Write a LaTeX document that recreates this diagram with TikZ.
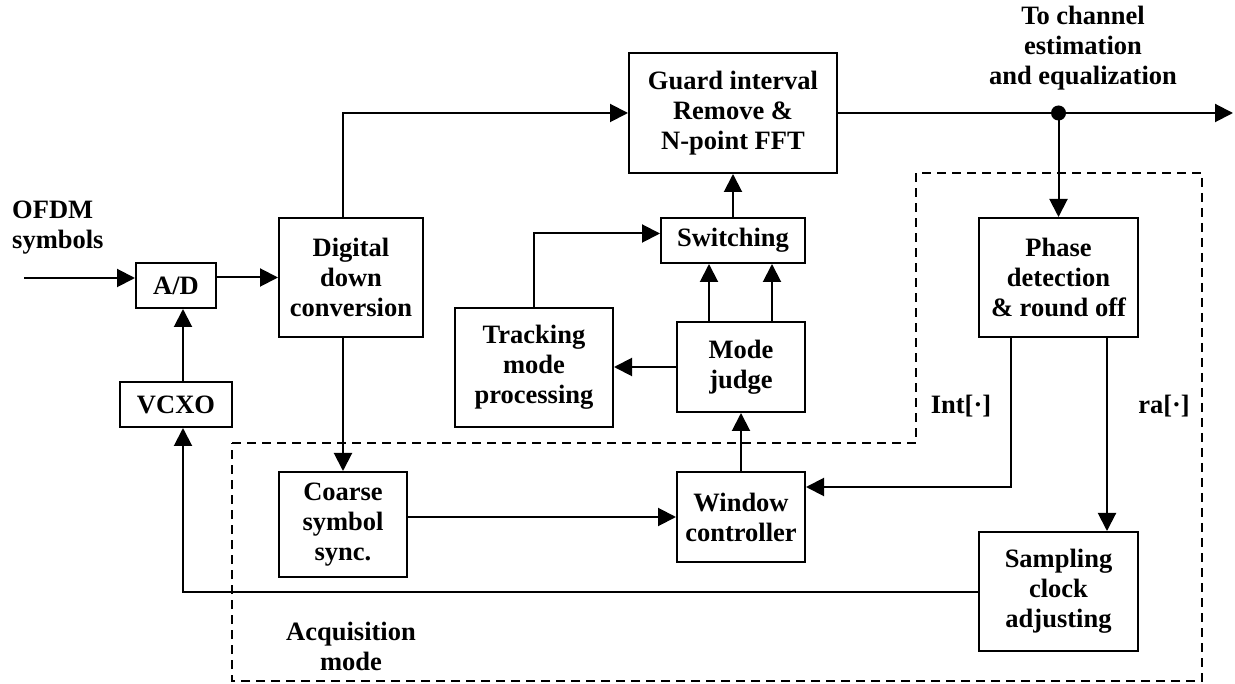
\documentclass[tikz,border=0pt]{standalone}
\usepackage{fontspec}
\setmainfont{Liberation Serif}
\usetikzlibrary{arrows.meta}
\begin{document}
\begin{tikzpicture}[x=1pt,y=-1pt,
  every node/.style={font=\fontsize{26.5}{30}\selectfont\bfseries, align=center, inner sep=0pt},
  blk/.style={draw, line width=2pt},
  conn/.style={line width=2pt},
  arr/.style={line width=2pt, -{Triangle[length=18pt,width=18pt]}},
  dashbox/.style={line width=1.8pt, dash pattern=on 9pt off 6pt}
]
\useasboundingbox (0,0) rectangle (1235,684);

% dashed acquisition boundary
\draw[dashbox] (232,443) -- (916,443) -- (916,173) -- (1202,173) -- (1202,681) -- (232,681) -- cycle;

% blocks
\node[blk, minimum width=80pt, minimum height=45pt] (ad) at (176,285.5) {A/D};
\node[blk, minimum width=112pt, minimum height=45pt] (vcxo) at (176,404.5) {VCXO};
\node[blk, minimum width=144pt, minimum height=119pt] (dig) at (351,277.5) {Digital\\down\\conversion};
\node[blk, minimum width=208pt, minimum height=120pt] (guard) at (733,113) {Guard interval\\Remove \&\\N-point FFT};
\node[blk, minimum width=144pt, minimum height=45pt] (sw) at (733,240.5) {Switching};
\node[blk, minimum width=158pt, minimum height=119pt] (trk) at (534,367.5) {Tracking\\mode\\processing};
\node[blk, minimum width=128pt, minimum height=90pt] (mode) at (741,367) {Mode\\judge};
\node[blk, minimum width=128pt, minimum height=90pt] (win) at (741,517) {Window\\controller};
\node[blk, minimum width=128pt, minimum height=105pt] (coarse) at (343,524.5) {Coarse\\symbol\\sync.};
\node[blk, minimum width=159pt, minimum height=119pt] (phase) at (1058.5,277.5) {Phase\\detection\\\& round off};
\node[blk, minimum width=159pt, minimum height=119pt] (samp) at (1058.5,591.5) {Sampling\\clock\\adjusting};

% labels
\node[align=left, anchor=west] (ofdm) at (12,228) {OFDM\\symbols};
\node (tochan) at (1083,48) {To channel\\estimation\\and equalization};
\node (intl) at (961,406) {Int[·]};
\node (ral) at (1164,406) {ra[·]};
\node (acq) at (351,646) {Acquisition\\mode};

% helper coordinates
\coordinate (in) at (24,278);
\coordinate (vx) at (183,0);
\coordinate (m1) at (709,0);
\coordinate (m2) at (772,0);
\coordinate (out) at (1233,113);
\coordinate (split) at (phase.north |- guard.east);

% connectors
\draw[arr] (in) -- (in -| ad.west);
\draw[arr] (ad.east |- dig.west) -- (dig.west);
\draw[arr] (vcxo.north -| vx) -- (ad.south -| vx);
\draw[arr] (dig.north -| coarse.north) |- (guard.west);
\draw[arr] (dig.south -| coarse.north) -- (coarse.north);
\draw[arr] (guard.east) -- (out);
\fill (split) circle (7.5pt);
\draw[arr] (split) -- (phase.north);
\draw[arr] (sw.north) -- (guard.south);
\draw[arr] (trk.north) |- ([yshift=7pt]sw.west);
\draw[arr] (mode.north -| m1) -- (sw.south -| m1);
\draw[arr] (mode.north -| m2) -- (sw.south -| m2);
\draw[arr] (mode.west) -- (trk.east |- mode.west);
\draw[arr] (win.north) -- (mode.south);
\draw[arr] (coarse.east |- win.west) -- (win.west);
\draw[arr] ([xshift=-47.5pt]phase.south) |- ([yshift=30pt]win.east);
\draw[arr] ([xshift=48.5pt]phase.south) -- ([xshift=48.5pt]samp.north);
\draw[arr] (samp.west) -| (vcxo.south -| vx);
\end{tikzpicture}
\end{document}
